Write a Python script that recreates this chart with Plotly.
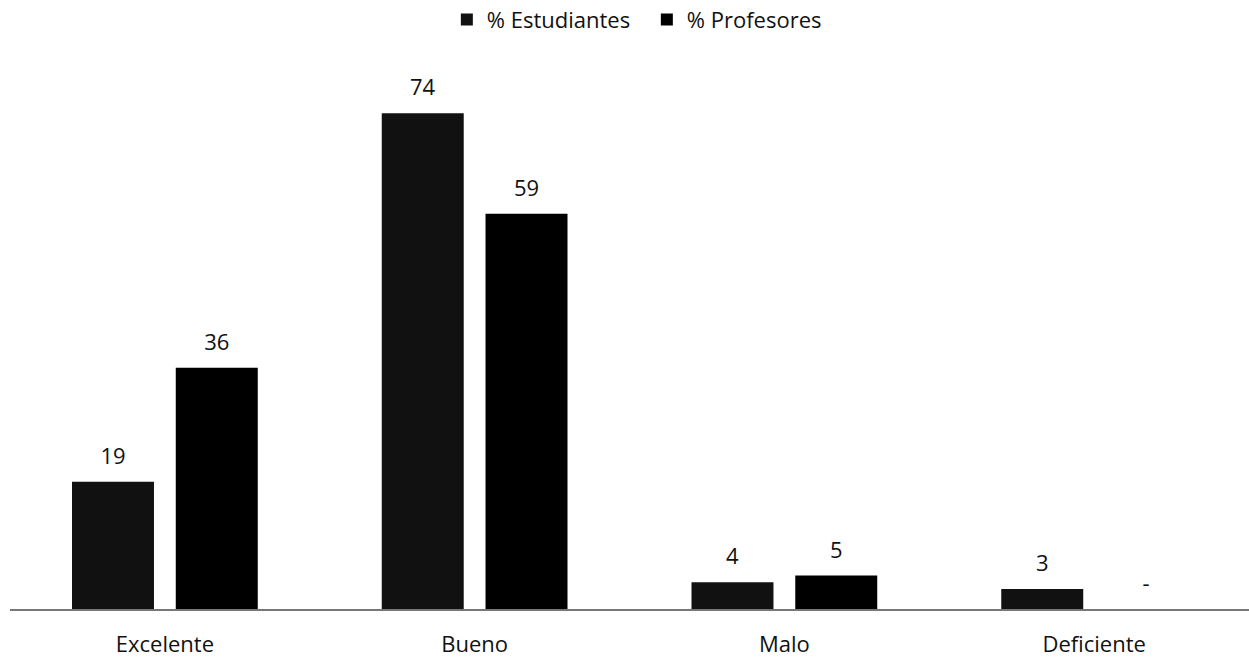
import plotly.graph_objects as go

categories = ["Excelente", "Bueno", "Malo", "Deficiente"]
estudiantes = [19, 74, 4, 3]
profesores = [36, 59, 5, 0]
est_labels = ["19", "74", "4", "3"]
prof_labels = ["36", "59", "5", "-"]

font_family = "Open Sans, Liberation Sans, sans-serif"


def lab(t):
    return "<span style='font-size:22px'>" + t + "</span><br> "


fig = go.Figure()
fig.add_trace(go.Bar(
    name="% Estudiantes", x=categories, y=estudiantes,
    text=[lab(t) for t in est_labels], textposition="outside", cliponaxis=False,
    marker=dict(color="#111111", line=dict(width=0)),
    textfont=dict(size=9, color="#111111", family=font_family),
))
fig.add_trace(go.Bar(
    name="% Profesores", x=categories, y=profesores,
    text=[lab(t) for t in prof_labels], textposition="outside", cliponaxis=False,
    marker=dict(color="#000000", line=dict(width=0)),
    textfont=dict(size=9, color="#111111", family=font_family),
))

fig.update_layout(
    width=1249, height=659,
    paper_bgcolor="white", plot_bgcolor="white",
    margin=dict(l=10, r=0, t=73, b=50, autoexpand=False),
    barmode="group", bargap=0.33, bargroupgap=0.21,
    font=dict(family=font_family, color="#111111"),
    uniformtext=dict(mode=False),
    legend=dict(orientation="h", x=0.514, xanchor="center", y=0.97, yanchor="middle",
                yref="container", entrywidth=155,
                font=dict(size=22, family=font_family), traceorder="normal"),
    showlegend=True,
)
fig.update_xaxes(showline=True, linecolor="#777777", linewidth=1.5,
                 ticks="outside", tickcolor="rgba(0,0,0,0)", ticklen=15, automargin=False,
                 tickfont=dict(size=22, family=font_family, color="#111111"), showgrid=False)
fig.update_yaxes(visible=False, range=[0, 80], showgrid=False, zeroline=False, automargin=False)

fig.write_html("out.html", config={"displayModeBar": False},
               post_script="document.body.style.margin='0';")
